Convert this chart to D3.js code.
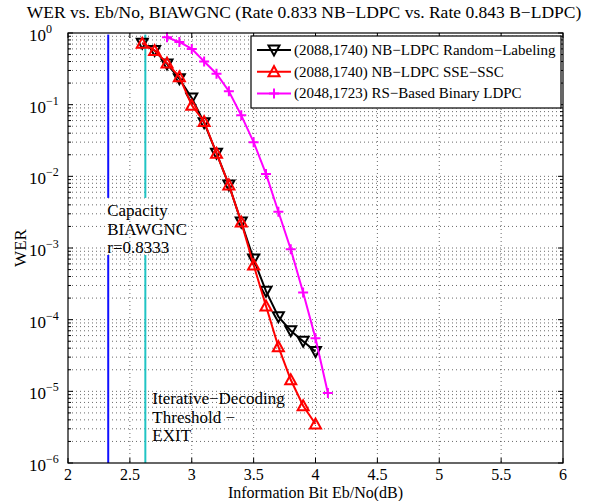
<!DOCTYPE html>
<html>
<head>
<meta charset="utf-8">
<script src="https://cdn.jsdelivr.net/npm/d3@7/dist/d3.min.js"></script>
<style>
  body { margin: 0; background: #fff; }
  text { font-family: "Liberation Serif", "Times New Roman", serif; fill: #000; }
</style>
</head>
<body>
<div id="chart"></div>
<script>
// data
const ebnoNB = [2.6, 2.7, 2.8, 2.9, 3.0, 3.1, 3.2, 3.3, 3.4, 3.5, 3.6, 3.7, 3.8, 3.9, 4.0];
const werRandom = [0.72, 0.57, 0.37, 0.23, 0.124, 0.056, 0.021, 0.0076, 0.0023, 0.0007, 0.00025, 0.00011, 0.00007, 0.00005, 0.000036];
const werSSE = [0.72, 0.57, 0.38, 0.245, 0.098, 0.058, 0.021, 0.0076, 0.0023, 0.00058, 0.000155, 0.000042, 0.0000145, 0.0000063, 0.0000035];
const ebnoRS = [2.8, 2.9, 3.0, 3.1, 3.2, 3.3, 3.4, 3.5, 3.6, 3.7, 3.8, 3.9, 4.0, 4.1];
const werRS = [0.87, 0.75, 0.6, 0.40, 0.27, 0.154, 0.071, 0.030, 0.0108, 0.0032, 0.00096, 0.00024, 0.000055, 0.0000095];

const seriesNames = ["(2088,1740) NB\u2212LDPC Random\u2212Labeling", "(2088,1740) NB\u2212LDPC SSE\u2212SSC", "(2048,1723) RS\u2212Based Binary LDPC"];

const capacityX = 2.325;
const thresholdX = 2.625;
const vlineTop = [0.95, 0.005];
const vlineBottom = [0.0008, 0.000001];

const xTicks = [2, 2.5, 3, 3.5, 4, 4.5, 5, 5.5, 6];
const yExps = [0, -1, -2, -3, -4, -5, -6];

const MARGINS = { left: 68, right: 36, top: 33, bottom: 38 };
const FRAME_WIDTH = 599;
const FRAME_HEIGHT = 501;
const VIS_WIDTH = FRAME_WIDTH - MARGINS.left - MARGINS.right;
const VIS_HEIGHT = FRAME_HEIGHT - MARGINS.top - MARGINS.bottom;
const FONT = "17px";

const svg = d3.select("#chart").append("svg")
    .attr("width", FRAME_WIDTH)
    .attr("height", FRAME_HEIGHT);

const xScale = d3.scaleLinear().domain([2, 6]).range([0, VIS_WIDTH]);
const yScale = d3.scaleLog().domain([1e-6, 1]).range([VIS_HEIGHT, 0]);

const g = svg.append("g").attr("transform", `translate(${MARGINS.left},${MARGINS.top})`);

// grid: major x, major + minor y, dotted
const minorY = [];
yExps.forEach(e => { if (e < 0) for (let k = 1; k <= 9; k++) minorY.push(k * Math.pow(10, e)); });

g.selectAll(".gx").data(xTicks.slice(1, -1)).enter().append("line")
    .attr("x1", d => xScale(d)).attr("x2", d => xScale(d))
    .attr("y1", 0).attr("y2", VIS_HEIGHT)
    .attr("stroke", "#444").attr("stroke-width", 0.8).attr("stroke-dasharray", "1,3");
g.selectAll(".gy").data(minorY.filter(d => d < 1 && d > 1e-6)).enter().append("line")
    .attr("x1", 0).attr("x2", VIS_WIDTH)
    .attr("y1", d => yScale(d)).attr("y2", d => yScale(d))
    .attr("stroke", "#444").attr("stroke-width", 0.8).attr("stroke-dasharray", "1,3");

// vertical reference lines
function vline(x, seg, color) {
    g.append("line")
        .attr("x1", xScale(x)).attr("x2", xScale(x))
        .attr("y1", yScale(seg[0])).attr("y2", yScale(seg[1]))
        .attr("stroke", color).attr("stroke-width", 2);
}
vline(capacityX, vlineTop, "#1010ff");
vline(capacityX, vlineBottom, "#1010ff");
vline(thresholdX, vlineTop, "#20c4c4");
vline(thresholdX, vlineBottom, "#20c4c4");

// annotations
const capText = ["Capacity", "BIAWGNC", "r=0.8333"];
g.selectAll(".cap").data(capText).enter().append("text")
    .attr("x", xScale(capacityX) - 1)
    .attr("y", (d, i) => 183 + i * 18.5)
    .attr("font-size", FONT)
    .text(d => d);
const thrText = ["Iterative\u2212Decoding", "Threshold \u2212", "EXIT"];
g.selectAll(".thr").data(thrText).enter().append("text")
    .attr("x", xScale(thresholdX) + 7)
    .attr("y", (d, i) => 371 + i * 18.5)
    .attr("font-size", FONT)
    .text(d => d);

// series
const line = d3.line().x(d => xScale(d[0])).y(d => yScale(d[1]));
const black = ebnoNB.map((x, i) => [x, werRandom[i]]);
const red = ebnoNB.map((x, i) => [x, werSSE[i]]);
const mag = ebnoRS.map((x, i) => [x, werRS[i]]);

const triDown = "M-5.5,-4.5L5.5,-4.5L0,5.5Z";
const triUp = "M-5.5,4.5L5.5,4.5L0,-5.5Z";
const plus = "M-5,0L5,0M0,-5L0,5";

function drawSeries(pts, color, markerPath) {
    g.append("path").datum(pts)
        .attr("d", line).attr("fill", "none")
        .attr("stroke", color).attr("stroke-width", 2);
    g.selectAll(null).data(pts).enter().append("path")
        .attr("transform", d => `translate(${xScale(d[0])},${yScale(d[1])})`)
        .attr("d", markerPath)
        .attr("fill", "none").attr("stroke", color).attr("stroke-width", 2);
}
drawSeries(black, "#000", triDown);
drawSeries(red, "#ff0000", triUp);
drawSeries(mag, "#ff00ff", plus);

// frame and ticks
g.append("rect").attr("width", VIS_WIDTH).attr("height", VIS_HEIGHT)
    .attr("fill", "none").attr("stroke", "#000").attr("stroke-width", 1.2);

const ticksG = g.append("g").attr("stroke", "#000").attr("stroke-width", 1);
xTicks.forEach(t => {
    ticksG.append("line").attr("x1", xScale(t)).attr("x2", xScale(t)).attr("y1", VIS_HEIGHT).attr("y2", VIS_HEIGHT - 5);
    ticksG.append("line").attr("x1", xScale(t)).attr("x2", xScale(t)).attr("y1", 0).attr("y2", 5);
});
minorY.concat([1]).forEach(t => {
    const major = Math.abs(Math.log10(t) - Math.round(Math.log10(t))) < 1e-9;
    const len = major ? 5 : 3;
    ticksG.append("line").attr("x1", 0).attr("x2", len).attr("y1", yScale(t)).attr("y2", yScale(t));
    ticksG.append("line").attr("x1", VIS_WIDTH).attr("x2", VIS_WIDTH - len).attr("y1", yScale(t)).attr("y2", yScale(t));
});

// tick labels
g.selectAll(".xl").data(xTicks).enter().append("text")
    .attr("x", d => xScale(d)).attr("y", VIS_HEIGHT + 16.5)
    .attr("text-anchor", "middle").attr("font-size", "16px")
    .text(d => d);

yExps.forEach(e => {
    const t = g.append("text")
        .attr("x", -39).attr("y", yScale(Math.pow(10, e)) + 8)
        .attr("font-size", FONT);
    t.append("tspan").text("10");
    t.append("tspan").attr("dy", -8).attr("font-size", "12px")
        .text(e === 0 ? "0" : "\u2212" + Math.abs(e));
});

// axis titles
svg.append("text")
    .attr("x", MARGINS.left + VIS_WIDTH / 2).attr("y", FRAME_HEIGHT - 3.5)
    .attr("text-anchor", "middle").attr("font-size", "16px")
    .text("Information Bit Eb/No(dB)");
svg.append("text")
    .attr("transform", `translate(26,${MARGINS.top + VIS_HEIGHT / 2}) rotate(-90)`)
    .attr("text-anchor", "middle").attr("font-size", FONT)
    .text("WER");
svg.append("text")
    .attr("x", 304).attr("y", 17.5)
    .attr("text-anchor", "middle").attr("font-size", "17.5px")
    .text("WER vs. Eb/No, BIAWGNC (Rate 0.833 NB\u2212LDPC vs. Rate 0.843 B\u2212LDPC)");

// legend
const legend = g.append("g").attr("transform", "translate(183,3)");
legend.append("rect").attr("width", 310).attr("height", 72)
    .attr("fill", "#fff").attr("stroke", "#000").attr("stroke-width", 1.2);
const legColors = ["#000", "#ff0000", "#ff00ff"];
const legMarkers = [triDown, triUp, plus];
seriesNames.forEach((name, i) => {
    const yy = 14 + i * 21.7;
    legend.append("line").attr("x1", 6).attr("x2", 40).attr("y1", yy).attr("y2", yy)
        .attr("stroke", legColors[i]).attr("stroke-width", 2);
    legend.append("path").attr("transform", `translate(23,${yy})`).attr("d", legMarkers[i])
        .attr("fill", "none").attr("stroke", legColors[i]).attr("stroke-width", 2);
    legend.append("text").attr("x", 43).attr("y", yy + 5)
        .attr("font-size", "15px").text(name);
});
</script>
</body>
</html>
